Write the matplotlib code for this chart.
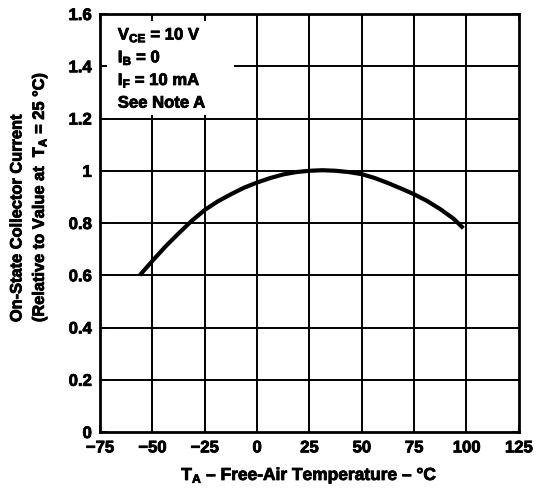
import matplotlib.pyplot as plt
import matplotlib.patheffects as pe
from matplotlib.patches import Rectangle

plt.rcParams['font.family'] = ['Liberation Sans', 'DejaVu Sans']
plt.rcParams['font.weight'] = 'bold'
plt.rcParams['mathtext.fontset'] = 'custom'
plt.rcParams['mathtext.rm'] = 'Liberation Sans:bold'
plt.rcParams['mathtext.bf'] = 'Liberation Sans:bold'
plt.rcParams['mathtext.it'] = 'Liberation Sans:bold'
plt.rcParams['mathtext.default'] = 'bf'

# curve
temp = [-56, -50, -43.75, -37.5, -31.25, -25, -18.75, -12.5, -6.25, 0,
        6.25, 12.5, 18.75, 25, 31.25, 37.5, 43.75, 50, 56.25, 62.5,
        68.75, 75, 81.25, 87.5, 93.75, 98.5]
rel_current = [0.60, 0.655, 0.71, 0.76, 0.808, 0.85, 0.883, 0.91, 0.935, 0.955,
               0.972, 0.986, 0.995, 1.0, 1.002, 1.0, 0.995, 0.987, 0.972, 0.953,
               0.932, 0.91, 0.884, 0.853, 0.817, 0.78]

xticks = [-75, -50, -25, 0, 25, 50, 75, 100, 125]
xtick_labels = ['\u221275', '\u221250', '\u221225', '0', '25', '50', '75', '100', '125']
yticks = [0, 0.2, 0.4, 0.6, 0.8, 1.0, 1.2, 1.4, 1.6]
ytick_labels = ['0', '0.2', '0.4', '0.6', '0.8', '1', '1.2', '1.4', '1.6']

conditions = ['V$_{CE}$ = 10 V', 'I$_B$ = 0', 'I$_F$ = 10 mA', 'See Note A']

heavy = [pe.withStroke(linewidth=0.6, foreground='black')]

fig = plt.figure(figsize=(5.36, 4.93), dpi=100)
ax = fig.add_axes([0.1866, 0.1237, 0.7814, 0.8479])

ax.set_xlim(-75, 125)
ax.set_ylim(0, 1.6)

# grid drawn by hand so the condition box can blank part of it
for x in xticks[1:-1]:
    ax.axvline(x, color='black', lw=1.4, zorder=1)
for y in yticks[1:-1]:
    ax.axhline(y, color='black', lw=1.4, zorder=1)

ax.add_patch(Rectangle((-75, 1.215), 64, 0.4, facecolor='white',
                       edgecolor='none', zorder=1.5))

ax.plot(temp, rel_current, color='black', lw=3, zorder=3,
        solid_capstyle='butt', solid_joinstyle='round')

ax.set_xticks(xticks)
ax.set_xticklabels(xtick_labels)
ax.set_yticks(yticks)
ax.set_yticklabels(ytick_labels)
ax.tick_params(direction='in', length=5, width=1.4, labelsize=12,
               top=True, right=True, pad=6)
for lab in ax.get_xticklabels() + ax.get_yticklabels():
    lab.set_path_effects(heavy)

for s in ax.spines.values():
    s.set_linewidth(2)

for i, line in enumerate(conditions):
    ax.text(-66.5, 1.52 - i * 0.087, line, fontsize=12, fontweight='bold',
            va='center', ha='left', zorder=4, path_effects=heavy)

ax.set_xlabel('T$_A$ \u2013 Free-Air Temperature \u2013 \u00b0C',
              fontsize=12.5, fontweight='bold', labelpad=7, path_effects=heavy)
ax.set_ylabel('On-State Collector Current\n(Relative to Value at  T$_A$ = 25 \u00b0C)',
              fontsize=11.8, fontweight='bold', linespacing=1.3,
              multialignment='left', path_effects=heavy)
ax.yaxis.set_label_coords(-0.122, 0.562)

plt.savefig('out.png', dpi=100)
